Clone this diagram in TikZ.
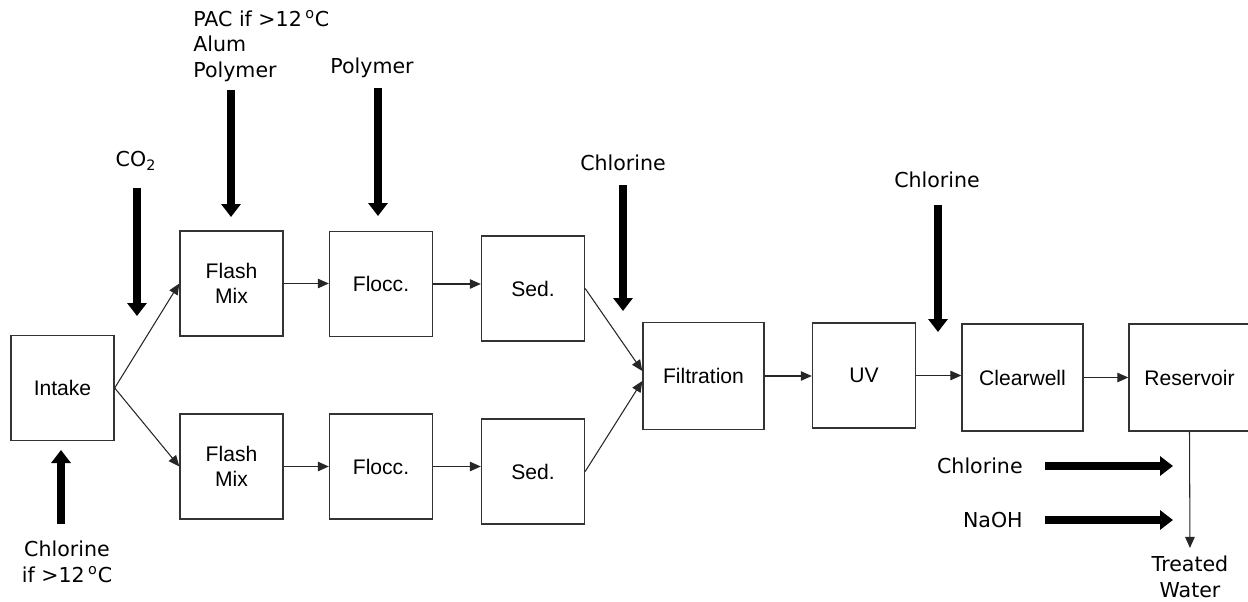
\documentclass[tikz,border=0pt]{standalone}
\usepackage{fontspec}
\setmainfont{Liberation Sans}
\newfontfamily\vfont{DejaVu Sans}
\usetikzlibrary{arrows.meta}

\begin{document}
\begin{tikzpicture}[
  x=0.02cm, y=-0.02cm,
  font=\fontsize{12}{14.2}\selectfont,
  unit/.style={draw=black!80, line width=0.8pt, rectangle, align=center,
               minimum width=2.06cm, minimum height=2.1cm, inner sep=2pt},
  wunit/.style={unit, minimum width=2.42cm, minimum height=2.14cm},
  flow/.style={-{Triangle[width=0.19cm, length=0.22cm]}, line width=0.6pt, black!85},
  feed/.style={-{Triangle[width=0.38cm, length=0.26cm]}, line width=4.6pt, black},
  chem/.style={font=\vfont\fontsize{11.7}{14.5}\selectfont, inner sep=0pt, align=center}
]
  \useasboundingbox (0,0) rectangle (1248,602);

  %% process units
  \node[unit] (intake) at (62.5, 388) {Intake};
  \node[unit] (fm1) at (231.5, 283.5) {Flash\\Mix};
  \node[unit] (fl1) at (381, 284) {Flocc.};
  \node[unit] (sd1) at (533, 288.5) {Sed.};
  \node[unit] (fm2) at (231.5, 466.5) {Flash\\Mix};
  \node[unit] (fl2) at (381, 466.5) {Flocc.};
  \node[unit] (sd2) at (533, 471.5) {Sed.};
  \node[wunit] (filt) at (703.5, 376) {Filtration};
  \node[unit] (uv) at (864, 375.5) {UV};
  \node[wunit] (cw) at (1022.5, 377.5) {Clearwell};
  \node[wunit] (res) at (1189.5, 377.5) {Reservoir};

  %% chemical labels
  \node[chem] (co2) at (136, 161) {CO\textsubscript{2}};
  \node[chem, align=left, anchor=west] (pac) at (193, 46)
    {PAC if >12\,\textsuperscript{o}C\\Alum\\Polymer};
  \node[chem] (poly) at (372, 68) {Polymer};
  \node[chem] (cl1) at (623, 163) {Chlorine};
  \node[chem] (cl2) at (937, 180) {Chlorine};
  \node[chem] (clin) at (67, 562) {Chlorine\\if >12\,\textsuperscript{o}C};
  \node[chem, anchor=east] (cl3) at (1023, 466) {Chlorine};
  \node[chem, anchor=east] (naoh) at (1023, 520) {NaOH};
  \node[chem] (tw) at (1190, 577) {Treated\\Water};

  %% feed arrow ends
  \coordinate (co2a) at (137, 188);   \coordinate (co2b) at (137, 316);
  \coordinate (paca) at (231, 90);    \coordinate (pacb) at (231, 217);
  \coordinate (polya) at (378, 88);   \coordinate (polyb) at (378, 216);
  \coordinate (cl1a) at (623, 185);   \coordinate (cl1b) at (623, 311);
  \coordinate (cl2a) at (938, 205);   \coordinate (cl2b) at (938, 332);
  \coordinate (clina) at (61, 524);   \coordinate (clinb) at (61, 450);
  \coordinate (cl3a) at (1045, 466);  \coordinate (cl3b) at (1173, 466);
  \coordinate (naoha) at (1045, 520); \coordinate (naohb) at (1173, 520);

  %% chemical feeds
  \draw[feed] (co2a) -- (co2b);
  \draw[feed] (paca) -- (pacb);
  \draw[feed] (polya) -- (polyb);
  \draw[feed] (cl1a) -- (cl1b);
  \draw[feed] (cl2a) -- (cl2b);
  \draw[feed] (clina) -- (clinb);
  \draw[feed] (cl3a) -- (cl3b);
  \draw[feed] (naoha) -- (naohb);

  %% water flow
  \draw[flow] (intake.east) -- (fm1.west);
  \draw[flow] (intake.east) -- (fm2.west);
  \draw[flow] (fm1.east) -- (fm1.east -| fl1.west);
  \draw[flow] (fl1.east) -- (fl1.east -| sd1.west);
  \draw[flow] (fm2.east) -- (fm2.east -| fl2.west);
  \draw[flow] (fl2.east) -- (fl2.east -| sd2.west);
  \draw[flow] (sd1.east) -- ([yshift=0.1cm]filt.west);
  \draw[flow] (sd2.east) -- ([yshift=-0.1cm]filt.west);
  \draw[flow] (filt.east) -- (filt.east -| uv.west);
  \draw[flow] (uv.east) -- (uv.east -| cw.west);
  \draw[flow] (cw) -- (res);
  \draw[flow, shorten >=0.16cm] (res.south) -- (tw.north);
\end{tikzpicture}
\end{document}
